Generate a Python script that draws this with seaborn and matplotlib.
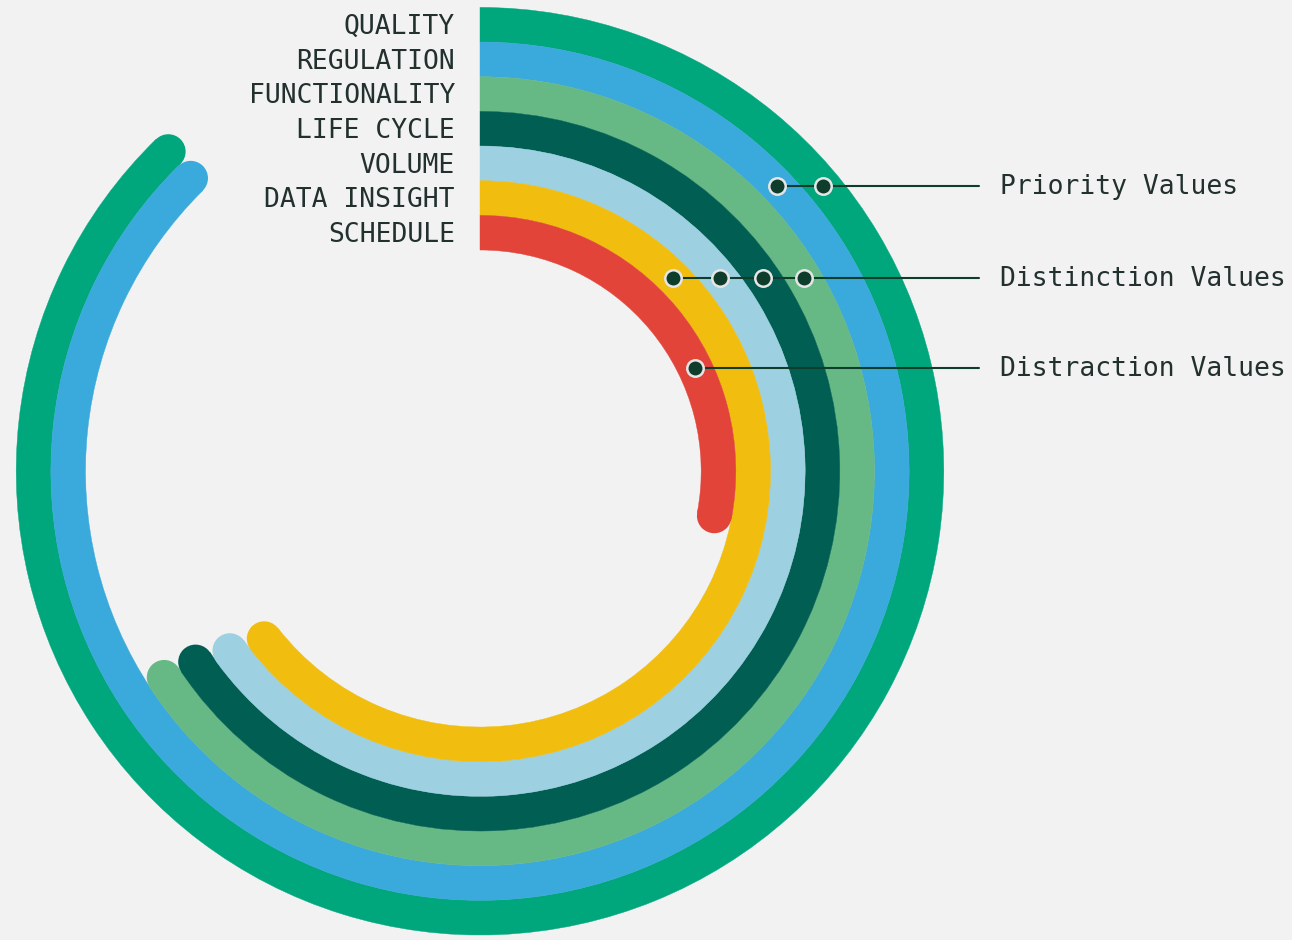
import numpy as np
import pandas as pd
import matplotlib.pyplot as plt
from matplotlib.patches import Wedge, Circle
import seaborn as sns

# share of the full circle each ring covers (percent)
categories = ['QUALITY', 'REGULATION', 'FUNCTIONALITY', 'LIFE CYCLE',
              'VOLUME', 'DATA INSIGHT', 'SCHEDULE']
values = [87.7, 87.6, 65.8, 65.6, 65.1, 64.5, 28.0]
colors = ['#00a77c', '#3aa9dc', '#66b984', '#005f52',
          '#9dd0e1', '#f1bd0f', '#e2443a']

group_labels = ['Priority Values', 'Distinction Values', 'Distraction Values']
group_members = [['QUALITY', 'REGULATION'],
                 ['FUNCTIONALITY', 'LIFE CYCLE', 'VOLUME', 'DATA INSIGHT'],
                 ['SCHEDULE']]

if __name__ == '__main__':
    sns.set_style('white', {'axes.facecolor': '#f2f2f2', 'figure.facecolor': '#f2f2f2'})
    plt.rcParams['font.family'] = ['DejaVu Sans Mono', 'DejaVu Sans']
    text_color = '#22302e'
    dark = '#0f3d2c'

    fig = plt.figure(figsize=(12.92, 9.40), dpi=100)
    ax = fig.add_axes([0, 0, 1, 1])

    outer = 463.8
    band = 34.66
    radii = {}
    for i, (cat, val, col) in enumerate(zip(categories, values, colors)):
        r_out = outer - i * band
        r_mid = r_out - band / 2
        radii[cat] = r_mid
        sweep = val / 100 * 360
        # arc starts at 12 o'clock and runs clockwise, flat start, round end
        ax.add_patch(Wedge((0, 0), r_out, 90 - sweep, 90, width=band,
                           facecolor=col, edgecolor=col, linewidth=0.3, zorder=2))
        end = np.deg2rad(90 - sweep)
        ax.add_patch(Circle((r_mid * np.cos(end), r_mid * np.sin(end)), band / 2,
                            facecolor=col, edgecolor='none', zorder=2))
        ax.text(-25, r_mid + 0.8, cat, ha='right', va='center_baseline',
                fontsize=19, color=text_color)

    # callouts: horizontal line through each group's rings
    line_levels = [285.5, 192.9, 103.5]
    rows = []
    for label, members, y in zip(group_labels, group_members, line_levels):
        xs = [np.sqrt(radii[m] ** 2 - y ** 2) for m in members]
        for x in xs:
            rows.append({'x': x, 'y': y})
        ax.plot([min(xs), 499], [y, y], color=dark, linewidth=1.5, zorder=3)
        ax.text(520, y + 2, label, ha='left', va='center_baseline', fontsize=19,
                color=text_color)

    dots = pd.DataFrame(rows)
    sns.scatterplot(data=dots, x='x', y='y', ax=ax, s=140, color=dark,
                    edgecolor='#e6e6e6', linewidth=1.8, zorder=4, legend=False)
    ax.set_xlim(-480, 812)
    ax.set_ylim(-468.8, 471.2)
    ax.axis('off')

    fig.savefig('out.png', dpi=100, facecolor='#f2f2f2')
